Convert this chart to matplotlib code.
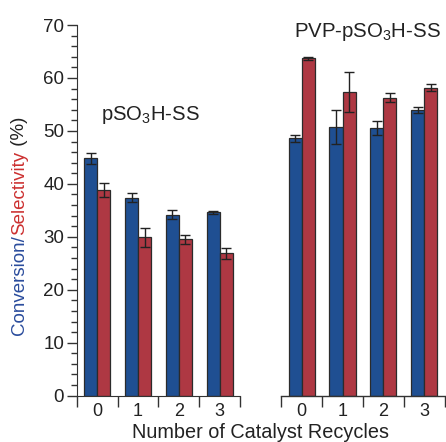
import numpy as np
import matplotlib
matplotlib.use('Agg')
import matplotlib.pyplot as plt
from matplotlib.ticker import MultipleLocator, FixedLocator

plt.rcParams['font.family'] = ['Liberation Sans', 'DejaVu Sans']
plt.rcParams['mathtext.fontset'] = 'custom'
plt.rcParams['mathtext.rm'] = 'Liberation Sans'

# data
recycles = ['0', '1', '2', '3']
# pSO3H-SS
conv_ss = [44.8, 37.4, 34.2, 34.6]
conv_ss_err = [1.0, 0.8, 0.8, 0.3]
sel_ss = [38.8, 29.9, 29.5, 26.9]
sel_ss_err = [1.3, 1.8, 0.8, 1.0]
# PVP-pSO3H-SS
conv_pvp = [48.6, 50.8, 50.6, 53.9]
conv_pvp_err = [0.6, 3.2, 1.3, 0.6]
sel_pvp = [63.7, 57.4, 56.3, 58.2]
sel_pvp_err = [0.3, 3.8, 0.9, 0.7]

blue = '#1f4f92'
red = '#ae3843'
edge = '#2b2b2b'

fig = plt.figure(figsize=(4.46, 4.42), dpi=100)
ax = fig.add_axes([0.172, 0.1048, 0.827, 0.8386])

pos_ss = np.arange(4)
pos_pvp = np.arange(4) + 5
w = 0.32

ekw = dict(ecolor='#222222', elinewidth=1.0, capsize=3.5, capthick=1.0)
for pos, cv, ce, sv, se in [(pos_ss, conv_ss, conv_ss_err, sel_ss, sel_ss_err),
                            (pos_pvp, conv_pvp, conv_pvp_err, sel_pvp, sel_pvp_err)]:
    ax.bar(pos - w / 2, cv, w, yerr=ce, color=blue, edgecolor=edge, linewidth=0.9,
           error_kw=ekw, zorder=2)
    ax.bar(pos + w / 2, sv, w, yerr=se, color=red, edgecolor=edge, linewidth=0.9,
           error_kw=ekw, zorder=2)

ax.set_xlim(-0.5, 8.52)
ax.set_ylim(0, 70)

# axis styling
for s in ['top', 'right']:
    ax.spines[s].set_visible(False)
ax.spines['left'].set_color('#333333')
ax.spines['bottom'].set_color('#333333')
ax.spines['bottom'].set_bounds(-0.5, 3.5)
ax.plot([4.5, 8.5], [0, 0], color='#333333', lw=1.0, clip_on=False, zorder=3)

ax.yaxis.set_major_locator(MultipleLocator(10))
ax.yaxis.set_minor_locator(MultipleLocator(2))
ax.tick_params(axis='y', which='major', length=7, width=1, color='#333333',
               labelsize=13.5, pad=2, labelcolor='#222222')
ax.tick_params(axis='y', which='minor', length=4, width=1, color='#333333')

# tick marks at group boundaries, labels at group centres
ax.xaxis.set_major_locator(FixedLocator([-0.5, 0.5, 1.5, 2.5, 3.5, 4.5, 5.5, 6.5, 7.5, 8.5]))
ax.xaxis.set_major_formatter(plt.NullFormatter())
ax.xaxis.set_minor_locator(FixedLocator(list(pos_ss) + list(pos_pvp)))
ax.set_xticklabels(recycles + recycles, minor=True)
ax.tick_params(axis='x', which='major', length=8, width=1, color='#333333')
ax.tick_params(axis='x', which='minor', length=0, labelsize=13, pad=5.5, labelcolor='#222222')

# x label placed directly so it sits just under the tick labels
fig.text(0.585, 0.008, 'Number of Catalyst Recycles', fontsize=14.3, color='#222222',
         ha='center', va='baseline')

# two-colour y label
t1 = fig.text(0.043, 0.243, 'Conversion/', rotation=90, fontsize=13.5,
              color='#2a4c9c', ha='center', va='bottom')
t2 = ax.annotate('Selectivity', xy=(0.5, 1), xycoords=t1, rotation=90, fontsize=13.5,
                 color='#cc3030', ha='center', va='bottom')
ax.annotate(' (%)', xy=(0.5, 1), xycoords=t2, rotation=90, fontsize=13.5,
            color='#222222', ha='center', va='bottom')

ax.text(1.3, 53, r'pSO$_3$H-SS', fontsize=14.6, ha='center', va='center', color='#222222')
ax.text(6.6, 68.6, r'PVP-pSO$_3$H-SS', fontsize=14.7, ha='center', va='center', color='#222222')

fig.savefig('out.png', dpi=100)
